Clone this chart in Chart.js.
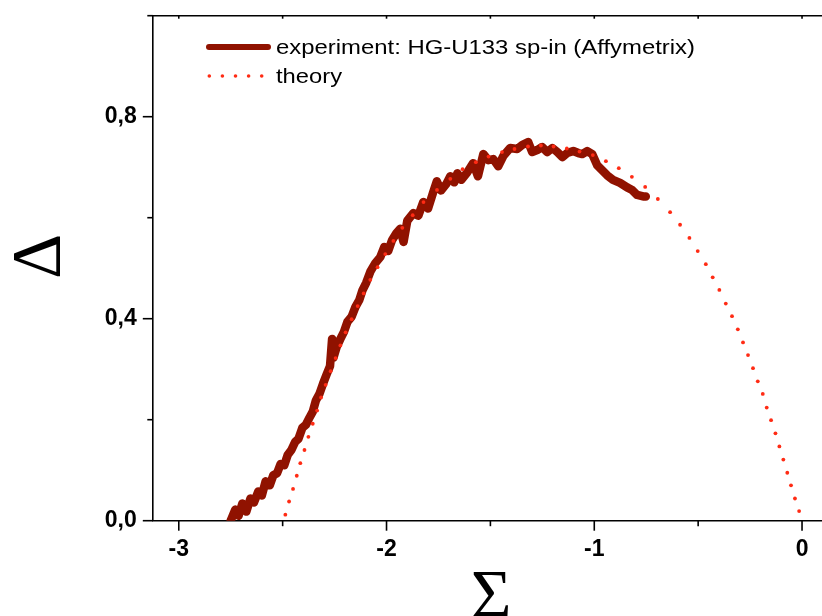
<!DOCTYPE html>
<html>
<head>
<meta charset="utf-8">
<script src="https://cdn.jsdelivr.net/npm/chart.js@4.4.1/dist/chart.umd.min.js"></script>
<style>
  html, body { margin: 0; padding: 0; background: #fff; overflow: hidden; }
  #wrap { width: 832px; height: 616px; }
</style>
</head>
<body>
<div id="wrap"><canvas id="chart" width="832" height="616"></canvas></div>
<script>
// ------------ DATA ------------------

const seriesNames = ["experiment: HG-U133 sp-in (Affymetrix)", "theory"];

// experiment (noisy band)
const expX = [
  -2.750, -2.728, -2.712, -2.694, -2.675, -2.655, -2.638, -2.617, -2.600, -2.582,
  -2.562, -2.545, -2.527, -2.510, -2.492, -2.476, -2.458, -2.440, -2.424, -2.405,
  -2.388, -2.371, -2.355, -2.340, -2.322, -2.305, -2.288, -2.272, -2.262, -2.256,
  -2.240, -2.222, -2.205, -2.188, -2.168, -2.150, -2.131, -2.116, -2.098, -2.078,
  -2.054, -2.030, -2.011, -1.992, -1.973, -1.953, -1.934, -1.918, -1.900, -1.871,
  -1.847, -1.823, -1.800, -1.775, -1.758, -1.738, -1.712, -1.693, -1.674, -1.659,
  -1.640, -1.611, -1.583, -1.560, -1.534, -1.510, -1.486, -1.462, -1.438, -1.405,
  -1.371, -1.347, -1.318, -1.299, -1.275, -1.251, -1.227, -1.202, -1.178, -1.154,
  -1.130, -1.101, -1.077, -1.058, -1.034, -1.010, -0.986, -0.962, -0.938, -0.910,
  -0.876, -0.842, -0.818, -0.794, -0.765, -0.752
];
const expY = [
  0.000, 0.022, 0.010, 0.034, 0.018, 0.044, 0.036, 0.058, 0.050, 0.078,
  0.070, 0.090, 0.094, 0.112, 0.110, 0.130, 0.140, 0.156, 0.162, 0.184,
  0.190, 0.204, 0.216, 0.238, 0.252, 0.272, 0.290, 0.306, 0.360, 0.322,
  0.344, 0.360, 0.374, 0.394, 0.404, 0.423, 0.437, 0.456, 0.471, 0.493,
  0.510, 0.522, 0.542, 0.534, 0.556, 0.569, 0.578, 0.552, 0.594, 0.609,
  0.604, 0.631, 0.618, 0.651, 0.672, 0.654, 0.667, 0.682, 0.670, 0.688,
  0.675, 0.690, 0.708, 0.682, 0.726, 0.714, 0.716, 0.702, 0.722, 0.738,
  0.736, 0.744, 0.750, 0.730, 0.734, 0.740, 0.730, 0.738, 0.730, 0.720,
  0.728, 0.732, 0.728, 0.726, 0.732, 0.726, 0.704, 0.694, 0.684, 0.675,
  0.669, 0.660, 0.655, 0.645, 0.642, 0.642
];

// theory (dotted curve, one value per dot)
const theoX = [
  -2.487, -2.469, -2.450, -2.432, -2.415, -2.395, -2.376, -2.355, -2.334, -2.315,
  -2.293, -2.269, -2.245, -2.222, -2.197, -2.168, -2.139, -2.110, -2.078, -2.043,
  -2.006, -1.967, -1.924, -1.874, -1.822, -1.757, -1.693, -1.634, -1.570, -1.509,
  -1.444, -1.384, -1.319, -1.257, -1.196, -1.132, -1.071, -1.007, -0.944, -0.882,
  -0.819, -0.755, -0.694, -0.635, -0.587, -0.542, -0.502, -0.463, -0.430, -0.398,
  -0.367, -0.337, -0.309, -0.284, -0.260, -0.236, -0.213, -0.189, -0.170, -0.149,
  -0.128, -0.109, -0.090, -0.071, -0.053, -0.034, -0.014
];
const theoY = [
  0.012, 0.038, 0.063, 0.089, 0.114, 0.140, 0.166, 0.192, 0.218, 0.244,
  0.269, 0.296, 0.322, 0.347, 0.373, 0.399, 0.425, 0.450, 0.477, 0.502,
  0.528, 0.554, 0.580, 0.605, 0.631, 0.655, 0.677, 0.696, 0.710, 0.721,
  0.730, 0.736, 0.741, 0.743, 0.741, 0.737, 0.731, 0.724, 0.712, 0.698,
  0.681, 0.661, 0.637, 0.611, 0.586, 0.560, 0.534, 0.508, 0.482, 0.457,
  0.430, 0.405, 0.379, 0.353, 0.328, 0.302, 0.276, 0.251, 0.224, 0.199,
  0.173, 0.147, 0.121, 0.095, 0.070, 0.044, 0.019
];

// axes
const xLabelTicks = [-3, -2, -1, 0];
const xMinorTicks = [-2.5, -1.5, -0.5];
const xTopTicks = [-3, -2.5, -2, -1.5, -1, -0.5, 0];
const yLabelTicks = [0, 0.4, 0.8];
const yMinorTicks = [0.2, 0.6, 1.0];
const xTitle = "Σ";
const yTitle = "Δ";


const expColor = "#901200";
const theoColor = "#ff2b14";
const sansFont = '"Liberation Sans", Arial, sans-serif';
const serifFont = '"Liberation Serif", "Times New Roman", serif';

const toPoints = (xs, ys) => xs.map((x, i) => ({ x: x, y: ys[i] }));


// ------------ EXTRA DRAWING (frame ticks, titles, legend) ------------------

// legend text is drawn a bit wide, like the original
function wideText(ctx, text, x, y, width) {
    const w = ctx.measureText(text).width;
    ctx.save();
    ctx.translate(x, y);
    ctx.scale(width / w, 1);
    ctx.fillText(text, 0, 0);
    ctx.restore();
}

const frame = {
    id: "frame",
    afterDraw(chart) {
        const { ctx, chartArea, scales } = chart;
        const x = scales.x, y = scales.y;
        ctx.save();
        ctx.strokeStyle = "#000";
        ctx.lineWidth = 1.6;

        // top border
        ctx.beginPath();
        ctx.moveTo(chartArea.left, chartArea.top);
        ctx.lineTo(chartArea.right, chartArea.top);
        ctx.stroke();

        const tick = (x1, y1, x2, y2) => {
            ctx.beginPath();
            ctx.moveTo(x1, y1);
            ctx.lineTo(x2, y2);
            ctx.stroke();
        };
        xLabelTicks.forEach(v => tick(x.getPixelForValue(v), chartArea.bottom, x.getPixelForValue(v), chartArea.bottom + 10));
        xMinorTicks.forEach(v => tick(x.getPixelForValue(v), chartArea.bottom, x.getPixelForValue(v), chartArea.bottom + 5.5));
        xTopTicks.forEach(v => tick(x.getPixelForValue(v), chartArea.top, x.getPixelForValue(v), chartArea.top + 3));
        yLabelTicks.forEach(v => tick(chartArea.left, y.getPixelForValue(v), chartArea.left - 10, y.getPixelForValue(v)));
        yMinorTicks.forEach(v => tick(chartArea.left, y.getPixelForValue(v), chartArea.left - 5.5, y.getPixelForValue(v)));

        // axis titles
        ctx.fillStyle = "#000";
        ctx.font = "70px " + serifFont;
        ctx.textAlign = "center";
        ctx.textBaseline = "alphabetic";
        ctx.fillText(xTitle, 491, 618);
        ctx.translate(60, 256.5);
        ctx.rotate(-Math.PI / 2);
        ctx.fillText(yTitle, 0, 0);
        ctx.restore();

        // legend
        ctx.save();
        ctx.strokeStyle = expColor;
        ctx.lineWidth = 6;
        ctx.lineCap = "round";
        tick(209, 47, 268, 47);
        ctx.fillStyle = theoColor;
        for (let i = 0; i < 5; i++) {
            ctx.beginPath();
            ctx.arc(209.3 + i * 13.1, 76, 1.8, 0, Math.PI * 2);
            ctx.fill();
        }
        ctx.fillStyle = "#000";
        ctx.font = "21px " + sansFont;
        ctx.textAlign = "left";
        ctx.textBaseline = "middle";
        wideText(ctx, seriesNames[0], 276, 48.5, 419);
        wideText(ctx, seriesNames[1], 276, 77.2, 66);
        ctx.restore();
    },
};


// ------------ CREATE CHART ------------------

const ctx = document.getElementById("chart");

new Chart(ctx, {
    type: "scatter",
    data: {
        datasets: [
            {
                label: seriesNames[0],
                data: toPoints(expX, expY),
                showLine: true,
                borderColor: expColor,
                borderWidth: 8.5,
                borderJoinStyle: "round",
                borderCapStyle: "round",
                pointRadius: 0,
                tension: 0,
                clip: 0,
                order: 2,
            },
            {
                label: seriesNames[1],
                data: toPoints(theoX, theoY),
                showLine: false,
                pointRadius: 1.9,
                pointBorderWidth: 0,
                pointBackgroundColor: theoColor,
                clip: 0,
                order: 1,
            },
        ],
    },
    options: {
        responsive: false,
        animation: false,
        events: [],
        layout: { padding: { top: 15.7, right: 2.4, left: 0, bottom: 0 } },
        plugins: {
            legend: { display: false },
            tooltip: { enabled: false },
        },
        scales: {
            x: {
                type: "linear",
                min: -3.125,
                max: 0.125,
                grid: { display: false, drawTicks: false },
                border: { display: true, color: "#000", width: 1.6 },
                ticks: {
                    autoSkip: false,
                    maxRotation: 0,
                    padding: 15.5,
                    color: "#000",
                    font: { family: sansFont, size: 23, weight: "bold" },
                    callback: v => String(v),
                },
                afterBuildTicks: s => { s.ticks = xLabelTicks.map(v => ({ value: v })); },
                afterFit: s => { s.height = 95.3; s.paddingLeft = 0; s.paddingRight = 0; },
            },
            y: {
                type: "linear",
                min: 0,
                max: 1.0,
                grid: { display: false, drawTicks: false },
                border: { display: true, color: "#000", width: 1.6 },
                ticks: {
                    autoSkip: false,
                    padding: 16,
                    color: "#000",
                    font: { family: sansFont, size: 23, weight: "bold" },
                    callback: v => v.toFixed(1).replace(".", ","),
                },
                afterBuildTicks: s => { s.ticks = yLabelTicks.map(v => ({ value: v })); },
                afterFit: s => { s.width = 152.8; s.paddingTop = 0; s.paddingBottom = 0; },
            },
        },
    },
    plugins: [frame],
});
</script>
</body>
</html>
